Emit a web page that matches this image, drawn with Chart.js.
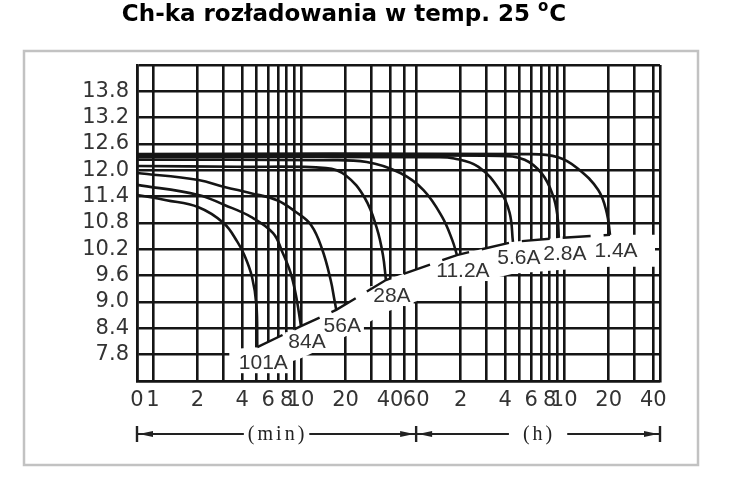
<!DOCTYPE html>
<html lang="pl">
<head>
<meta charset="utf-8">
<title>Ch-ka rozładowania w temp. 25 °C</title>
<script src="https://cdn.jsdelivr.net/npm/chart.js@4.4.1/dist/chart.umd.min.js"></script>
<style>
  html, body { margin: 0; padding: 0; background: #fff; }
  canvas { display: block; }
</style>
</head>
<body>
<canvas id="chart" width="730" height="477"></canvas>
<script>
// Discharge curves: time in minutes, voltage in V
const currents = ['101A', '84A', '56A', '28A', '11.2A', '5.6A', '2.8A', '1.4A'];

const time101A = [0.78, 1.23, 2.03, 3.0, 3.72, 4.14, 4.67, 5.0, 5.07];
const volt101A = [11.44, 11.32, 11.16, 10.80, 10.37, 10.07, 9.57, 8.93, 7.97];

const time84A = [0.78, 2.03, 3.04, 4.59, 6.48, 7.48, 8.48, 9.24, 10.0];
const volt84A = [11.67, 11.44, 11.21, 10.94, 10.57, 10.14, 9.68, 9.16, 8.45];

const time56A = [0.78, 2.03, 3.04, 4.59, 6.89, 9.24, 11.72, 13.94, 15.87, 16.82, 17.31];
const volt56A = [11.94, 11.78, 11.62, 11.48, 11.32, 11.05, 10.75, 10.19, 9.50, 9.05, 8.82];

const time28A = [0.78, 3.67, 14.77, 20.0, 27.0, 32.5, 35.8, 37.5];
const volt28A = [12.10, 12.08, 12.05, 11.89, 11.37, 10.69, 10.07, 9.50];

const time11A = [0.78, 13.35, 27.8, 46.9, 67.3, 89.9, 105.3, 113.2];
const volt11A = [12.24, 12.23, 12.19, 11.94, 11.55, 10.94, 10.41, 10.07];

const time5A = [0.78, 81.2, 108.4, 158.2, 220, 256.9, 270.5];
const volt5A = [12.30, 12.30, 12.27, 12.08, 11.55, 11.03, 10.37];

const time2A = [0.78, 220, 324.3, 425.6, 502.8, 540, 552.5];
const volt2A = [12.33, 12.33, 12.24, 11.92, 11.44, 10.98, 10.46];

const time1A = [0.78, 345.9, 546, 737.5, 1020, 1165, 1225];
const volt1A = [12.37, 12.37, 12.30, 12.05, 11.55, 11.03, 10.53];

const curveTimes = [time101A, time84A, time56A, time28A, time11A, time5A, time2A, time1A];
const curveVolts = [volt101A, volt84A, volt56A, volt28A, volt11A, volt5A, volt2A, volt1A];

// x axis: minutes up to 60, then hours
const xTickValues = [0.78, 1, 2, 3, 4, 5, 6, 7, 8, 9, 10, 20, 30, 40, 50, 60,
  120, 180, 240, 300, 360, 420, 480, 540, 600, 1200, 1800, 2400, 2666];
const xTickLabels = ['0', '1', '2', '', '4', '', '6', '', '8', '', '10', '20', '', '40', '', '60',
  '2', '', '4', '', '6', '', '8', '', '10', '20', '', '40', ''];

const yTickValues = [7.2, 7.8, 8.4, 9.0, 9.6, 10.2, 10.8, 11.4, 12.0, 12.6, 13.2, 13.8, 14.4];
const yTickLabels = ['', '7.8', '8.4', '9.0', '9.6', '10.2', '10.8', '11.4', '12.0', '12.6', '13.2', '13.8', ''];

const INK = '#151515';
const TEXT = '#333';
const tickFont = { family: '"DejaVu Sans", sans-serif', size: 21 };

function toPoints(times, volts) {
    return times.map((t, i) => ({ x: t, y: volts[i] }));
}

// end-of-discharge line joins the last point of each curve
const endPoints = curveTimes.map((t, i) => ({ x: t[t.length - 1], y: curveVolts[i][curveVolts[i].length - 1] }));

const datasets = currents.map((name, i) => ({
    label: name,
    data: toPoints(curveTimes[i], curveVolts[i]),
    borderColor: INK,
    borderWidth: 2.6,
    pointRadius: 0,
    tension: 0.4,
    fill: false
}));

datasets.push({
    label: 'end',
    data: endPoints,
    borderColor: INK,
    borderWidth: 2.4,
    borderDash: [28, 13],
    pointRadius: 0,
    tension: 0,
    fill: false
});

function endPixels(chart) {
    const xs = chart.scales.x, ys = chart.scales.y;
    return endPoints.map(p => ({ x: xs.getPixelForValue(p.x), y: ys.getPixelForValue(p.y) }));
}

function labelBox(p) {
    return { cx: p.x + 6, cy: p.y + 16 };
}

// white band under the end line, the grid is cut away there
const endZone = {
    id: 'endZone',
    beforeDatasetsDraw(chart) {
        const ctx = chart.ctx;
        const area = chart.chartArea;
        const ends = endPixels(chart);
        const top = [{ x: ends[0].x - 28, y: ends[0].y + 2 }, ...ends,
            { x: area.right - 5, y: ends[ends.length - 1].y }];
        const bottom = top.map(p => ({ x: p.x, y: Math.min(p.y + 32, area.bottom - 8) })).reverse();

        ctx.save();
        ctx.fillStyle = '#fff';
        ctx.beginPath();
        [...top, ...bottom].forEach((p, i) => i ? ctx.lineTo(p.x, p.y) : ctx.moveTo(p.x, p.y));
        ctx.closePath();
        ctx.fill();

        ctx.font = '21px "Liberation Sans", Arial, sans-serif';
        ends.forEach((p, i) => {
            const b = labelBox(p);
            const w = ctx.measureText(currents[i]).width;
            ctx.fillRect(b.cx - w / 2 - 3, b.cy - 10, w + 6, 20);
        });
        ctx.restore();
    },
    afterDatasetsDraw(chart) {
        const ctx = chart.ctx;
        const ends = endPixels(chart);
        ctx.save();
        ctx.font = '21px "Liberation Sans", Arial, sans-serif';
        ctx.fillStyle = TEXT;
        ctx.textAlign = 'center';
        ctx.textBaseline = 'middle';
        ends.forEach((p, i) => {
            const b = labelBox(p);
            ctx.fillText(currents[i], b.cx, b.cy);
        });
        ctx.restore();
    }
};

function arrowHead(ctx, tipX, y, dir) {
    ctx.beginPath();
    ctx.moveTo(tipX, y);
    ctx.lineTo(tipX - dir * 14, y - 3);
    ctx.lineTo(tipX - dir * 14, y + 3);
    ctx.closePath();
    ctx.fill();
}

function drawSpan(ctx, x1, x2, y, text, pad) {
    const tw = ctx.measureText(text).width;
    const mid = (x1 + x2) / 2;
    const gap = tw / 2 + pad;
    ctx.beginPath();
    ctx.moveTo(x1, y);
    ctx.lineTo(mid - gap, y);
    ctx.moveTo(mid + gap, y);
    ctx.lineTo(x2, y);
    ctx.stroke();
    arrowHead(ctx, x1 + 2, y, -1);
    arrowHead(ctx, x2 - 2, y, 1);
    ctx.fillText(text, mid + 1, y + 1);
}

const frameAndTitle = {
    id: 'frameAndTitle',
    beforeDraw(chart) {
        const ctx = chart.ctx;
        ctx.save();
        ctx.strokeStyle = '#c2c2c2';
        ctx.lineWidth = 2.5;
        ctx.strokeRect(24, 51, 674, 414);
        ctx.restore();
    },
    afterDraw(chart) {
        const ctx = chart.ctx;
        const area = chart.chartArea;
        const xs = chart.scales.x;

        // title with a raised "o" for degrees
        ctx.save();
        ctx.fillStyle = '#000';
        ctx.textBaseline = 'alphabetic';
        const main = 'Ch-ka rozładowania w temp. 25 ';
        const bigFont = 'bold 23px "DejaVu Sans", sans-serif';
        const supFont = 'bold 15px "DejaVu Sans", sans-serif';
        ctx.font = bigFont;
        const wMain = ctx.measureText(main).width;
        const wC = ctx.measureText('C').width;
        ctx.font = supFont;
        const wSup = ctx.measureText('o').width + 1;
        let x = 344 - (wMain + wSup + wC) / 2;
        ctx.font = bigFont;
        ctx.fillText(main, x, 21);
        x += wMain;
        ctx.font = supFont;
        ctx.fillText('o', x, 11);
        x += wSup;
        ctx.font = bigFont;
        ctx.fillText('C', x, 21);
        ctx.restore();

        // (min) / (h) spans under the axis
        const y = area.bottom + 53;
        const xMid = xs.getPixelForValue(60);
        ctx.save();
        ctx.strokeStyle = '#222';
        ctx.fillStyle = '#222';
        ctx.lineWidth = 2;
        [area.left, xMid, area.right].forEach(bx => ctx.fillRect(bx - 1.2, y - 8, 2.4, 16));
        ctx.font = '20px "Liberation Serif", "DejaVu Serif", serif';
        ctx.textAlign = 'center';
        ctx.textBaseline = 'middle';
        ctx.letterSpacing = '3px';
        drawSpan(ctx, area.left, xMid, y, '(min)', 3);
        drawSpan(ctx, xMid, area.right, y, '(h)', 13);
        ctx.restore();
    }
};

const chart = new Chart(document.getElementById('chart'), {
    type: 'line',
    data: { datasets },
    options: {
        responsive: false,
        animation: false,
        events: [],
        layout: { padding: { top: 65, right: 70, bottom: 0, left: 0 } },
        plugins: {
            legend: { display: false },
            tooltip: { enabled: false },
            title: { display: false }
        },
        scales: {
            x: {
                type: 'logarithmic',
                min: xTickValues[0],
                max: xTickValues[xTickValues.length - 1],
                afterBuildTicks: axis => { axis.ticks = xTickValues.map(v => ({ value: v })); },
                afterFit: axis => { axis.height = 96; },
                ticks: {
                    autoSkip: false,
                    maxRotation: 0,
                    padding: 7,
                    color: TEXT,
                    font: tickFont,
                    callback: (v, i) => xTickLabels[i]
                },
                grid: { color: INK, lineWidth: 2.6, drawTicks: false },
                border: { display: true, color: INK, width: 2.6 }
            },
            y: {
                type: 'linear',
                min: yTickValues[0],
                max: yTickValues[yTickValues.length - 1],
                afterBuildTicks: axis => { axis.ticks = yTickValues.map(v => ({ value: v })); },
                afterFit: axis => { axis.width = 137; },
                ticks: {
                    autoSkip: false,
                    padding: 8,
                    color: TEXT,
                    font: tickFont,
                    callback: (v, i) => yTickLabels[i]
                },
                grid: { color: INK, lineWidth: 2.6, drawTicks: false },
                border: { display: true, color: INK, width: 2.6 }
            }
        }
    },
    plugins: [frameAndTitle, endZone]
});
</script>
</body>
</html>
